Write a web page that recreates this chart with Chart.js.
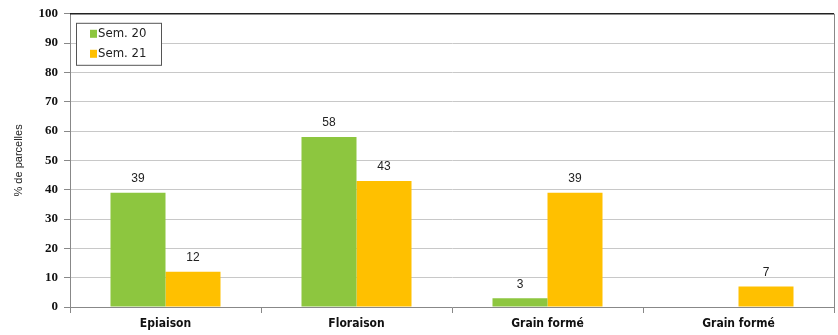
<!DOCTYPE html>
<html>
<head>
<meta charset="utf-8">
<script src="https://cdn.jsdelivr.net/npm/chart.js@4"></script>
<style>
  html, body { margin: 0; padding: 0; background: #fff; }
  #wrap { width: 838px; height: 335px; }
</style>
</head>
<body>
<div id="wrap"><canvas id="stadeChart" width="838" height="335"></canvas></div>
<script>
const categories = ["Epiaison", "Floraison", "Grain formé", "Grain formé"];
const sem20 = [39, 58, 3, null];
const sem21 = [12, 43, 39, 7];
const seriesNames = ["Sem. 20", "Sem. 21"];
const yTicks = [0, 10, 20, 30, 40, 50, 60, 70, 80, 90, 100];

const green = "#8DC63F";
const orange = "#FFC000";

// values above bars
const valueLabels = {
    id: "valueLabels",
    afterDatasetsDraw(chart) {
        const c = chart.ctx;
        c.save();
        c.font = "12px 'Liberation Sans', sans-serif";
        c.fillStyle = "#222";
        c.textAlign = "center";
        c.textBaseline = "bottom";
        chart.data.datasets.forEach((ds, i) => {
            chart.getDatasetMeta(i).data.forEach((bar, j) => {
                if (ds.data[j] == null) return;
                c.fillText(ds.data[j], bar.x, bar.y - 8);
            });
        });
        c.restore();
    }
};

// frame + legend box inside plot area
const frameAndLegend = {
    id: "frameAndLegend",
    afterDraw(chart) {
        const c = chart.ctx;
        const a = chart.chartArea;
        c.save();
        c.strokeStyle = "#222";
        c.lineWidth = 1.5;
        c.beginPath();
        c.moveTo(a.left, a.top);
        c.lineTo(a.right, a.top);
        c.stroke();
        c.strokeStyle = "#888";
        c.lineWidth = 1;
        c.beginPath();
        c.moveTo(a.right + 0.5, a.top);
        c.lineTo(a.right + 0.5, a.bottom);
        c.stroke();

        const bx = a.left + 6, by = a.top + 9, bw = 85, bh = 42;
        c.fillStyle = "#fff";
        c.fillRect(bx, by, bw, bh);
        c.strokeStyle = "#555";
        c.strokeRect(bx + 0.5, by + 0.5, bw, bh);
        c.font = "13px 'Liberation Sans Narrow', 'DejaVu Sans Condensed', sans-serif";
        c.textBaseline = "middle";
        c.textAlign = "left";
        [green, orange].forEach((col, i) => {
            const cy = by + 11 + i * 20;
            c.fillStyle = col;
            c.fillRect(bx + 14, cy - 4, 7, 8);
            c.fillStyle = "#222";
            c.fillText(seriesNames[i], bx + 22, cy);
        });
        c.restore();
    }
};

new Chart(document.getElementById("stadeChart").getContext("2d"), {
    type: "bar",
    data: {
        labels: categories,
        datasets: [
            { label: seriesNames[0], data: sem20, backgroundColor: green },
            { label: seriesNames[1], data: sem21, backgroundColor: orange }
        ]
    },
    options: {
        responsive: false,
        animation: false,
        layout: { padding: { top: 8, right: 4, left: 0, bottom: 0 } },
        datasets: { bar: { categoryPercentage: 0.576, barPercentage: 1.0 } },
        scales: {
            x: {
                grid: { drawOnChartArea: false, drawTicks: true, tickLength: 6, color: "#888", offset: true },
                border: { color: "#888" },
                ticks: {
                    color: "#111",
                    padding: 4,
                    font: { family: "'Liberation Sans Narrow', 'DejaVu Sans Condensed', sans-serif", size: 12, weight: "bold" }
                },
                afterFit(scale) { scale.height = 28; }
            },
            y: {
                min: 0,
                max: 100,
                afterBuildTicks(scale) { scale.ticks = yTicks.map(v => ({ value: v })); },
                grid: { color: "#c8c8c8", tickLength: 6, tickColor: "#888" },
                border: { color: "#888" },
                ticks: {
                    color: "#111",
                    padding: 6,
                    font: { family: "'Liberation Serif', serif", size: 13, weight: "bold" }
                },
                title: {
                    display: true,
                    text: "% de parcelles",
                    color: "#222",
                    padding: { top: 12, bottom: 0 },
                    font: { family: "'Liberation Sans', sans-serif", size: 11 }
                },
                afterFit(scale) { scale.width = 70; }
            }
        },
        plugins: {
            legend: { display: false },
            tooltip: { enabled: false }
        }
    },
    plugins: [valueLabels, frameAndLegend]
});
</script>
</body>
</html>
